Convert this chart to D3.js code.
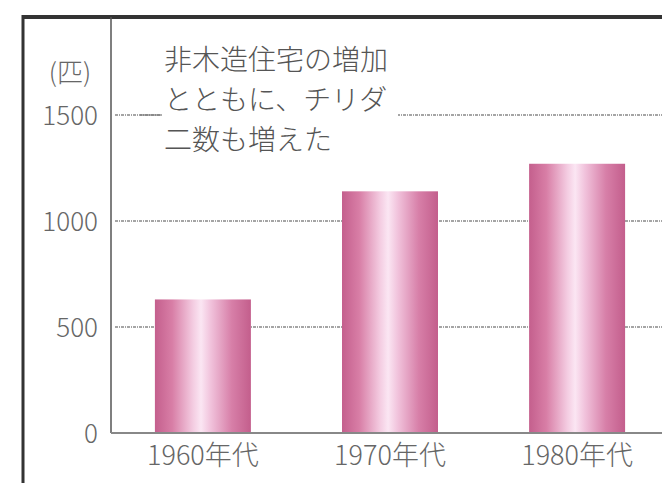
<!DOCTYPE html>
<html>
<head>
<meta charset="utf-8">
<script src="https://cdn.jsdelivr.net/npm/d3@7"></script>
<style>
    body { margin: 0; background: #fff; }
    svg { display: block; }
</style>
</head>
<body>
<svg width="662" height="483"></svg>
<script>
// data
let categories = ["1960年代", "1970年代", "1980年代"];
let counts = [630, 1140, 1270];
let yTicks = [0, 500, 1000, 1500];
let unitLabel = "(匹)";
let note = ["非木造住宅の増加", "とともに、チリダ", "二数も増えた"];

let svg = d3.select("svg"),
    axisX = 111,
    baseY = 433;

let x = d3.scaleBand().domain(categories).range([110, 670])
    .paddingInner(0.487).paddingOuter(0.24);
let y = d3.scaleLinear().domain([0, 1500]).range([baseY, 115]);

let font = "'Noto Sans CJK JP', 'Noto Sans', sans-serif";

// bar gradient
let defs = svg.append("defs");
let grad = defs.append("linearGradient").attr("id", "barGrad")
    .attr("x1", "0%").attr("x2", "100%").attr("y1", "0%").attr("y2", "0%");
[["0%", "#c45f8d"], ["18%", "#d87ea6"], ["40%", "#f4cde2"], ["48%", "#fbe6f3"],
 ["58%", "#f1c3dc"], ["80%", "#d77fa8"], ["100%", "#c35e8c"]].forEach(function (s) {
    grad.append("stop").attr("offset", s[0]).attr("stop-color", s[1]);
});

// outer frame
svg.append("line").attr("x1", 23).attr("x2", 23).attr("y1", 15).attr("y2", 483)
    .attr("stroke", "#333").attr("stroke-width", 3);
svg.append("line").attr("x1", 22).attr("x2", 662).attr("y1", 17).attr("y2", 17)
    .attr("stroke", "#333").attr("stroke-width", 4);

// gridlines
svg.selectAll(".grid").data(yTicks.filter(function (d) { return d > 0; }))
    .enter().append("line")
    .attr("class", "grid")
    .attr("x1", axisX + 4).attr("x2", 662)
    .attr("y1", function (d) { return y(d); })
    .attr("y2", function (d) { return y(d); })
    .attr("stroke", "#888").attr("stroke-width", 1.5)
    .attr("stroke-dasharray", "3,1,1,1");

// annotation with white backing so the 1500 line breaks around it
svg.append("rect").attr("x", 160).attr("y", 40).attr("width", 238).attr("height", 118)
    .attr("fill", "#fff");
svg.append("line").attr("x1", 140).attr("x2", 162).attr("y1", y(1500)).attr("y2", y(1500))
    .attr("stroke", "#777").attr("stroke-width", 1.2);
svg.selectAll(".note").data(note).enter().append("text")
    .attr("class", "note")
    .attr("x", 164)
    .attr("y", function (d, i) { return 70 + i * 40; })
    .attr("font-family", font).attr("font-size", 28).attr("font-weight", 300)
    .attr("fill", "#555")
    .text(function (d) { return d; });

// bars
svg.selectAll(".bar").data(categories).enter().append("rect")
    .attr("class", "bar")
    .attr("x", function (d) { return x(d); })
    .attr("y", function (d, i) { return y(counts[i]); })
    .attr("width", x.bandwidth())
    .attr("height", function (d, i) { return baseY - y(counts[i]); })
    .attr("fill", "url(#barGrad)");

// axes lines
svg.append("line").attr("x1", axisX).attr("x2", axisX).attr("y1", 17).attr("y2", baseY)
    .attr("stroke", "#555").attr("stroke-width", 1.5);
svg.append("line").attr("x1", axisX).attr("x2", 662).attr("y1", baseY).attr("y2", baseY)
    .attr("stroke", "#888").attr("stroke-width", 2);

// y tick labels
let yAxis = svg.append("g").attr("transform", "translate(" + axisX + ",0)")
    .call(d3.axisLeft(y).tickValues(yTicks).tickFormat(d3.format("d")).tickSize(0).tickPadding(13));
yAxis.select(".domain").remove();
yAxis.selectAll("text").attr("font-family", font).attr("font-size", 26).attr("font-weight", 300)
    .attr("fill", "#666").attr("dy", "0.35em");

svg.append("text").attr("x", 70).attr("y", 82).attr("text-anchor", "middle")
    .attr("font-family", font).attr("font-size", 26).attr("font-weight", 300).attr("fill", "#666")
    .text(unitLabel);

// x labels
let xAxis = svg.append("g").attr("transform", "translate(0," + baseY + ")")
    .call(d3.axisBottom(x).tickSize(0).tickPadding(13));
xAxis.select(".domain").remove();
xAxis.selectAll("text").attr("font-family", font).attr("font-size", 27).attr("font-weight", 300)
    .attr("fill", "#666").attr("dy", "0.71em");
</script>
</body>
</html>
